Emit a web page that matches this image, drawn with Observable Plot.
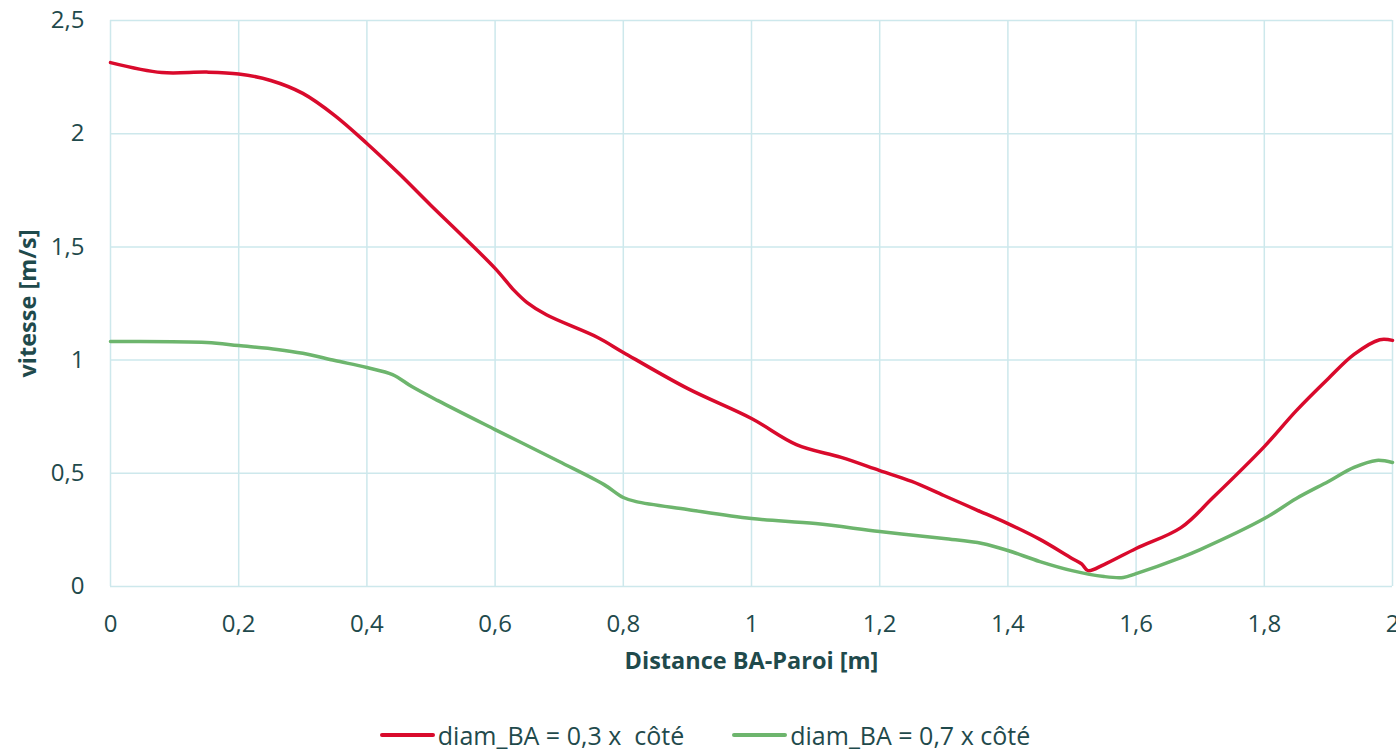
<!DOCTYPE html>
<html><head><meta charset="utf-8">
<script src="https://cdn.jsdelivr.net/npm/d3@7"></script>
<script src="https://cdn.jsdelivr.net/npm/@observablehq/plot@0.6"></script>
<style>
body{margin:0;background:#fff;font-family:"Open Sans",sans-serif;}
#legend{display:flex;justify-content:center;gap:48px;font-size:25px;color:#1f4a4c;margin-top:18px;padding-left:14px}
.item{display:flex;align-items:center}
.sw{display:inline-block;width:55px;height:4px;margin-right:3px;border-radius:2px}
</style></head><body>
<div id="chart"></div>
<div id="legend"></div>
<script>
const seriesNames = ["diam_BA = 0,3 x  côté", "diam_BA = 0,7 x côté"];
const colors = ["#d90a2c", "#6db56d"];
const redX = [0,0.08,0.15,0.2,0.25,0.3,0.35,0.4,0.45,0.5,0.55,0.6,0.63,0.65,0.68,0.76,0.8,0.9,1.0,1.07,1.14,1.2,1.25,1.3,1.35,1.4,1.45,1.5,1.515,1.525,1.55,1.6,1.67,1.72,1.8,1.85,1.9,1.94,1.98,2.0];
const redY = [2.314,2.27,2.272,2.264,2.235,2.178,2.08,1.957,1.824,1.683,1.546,1.405,1.307,1.254,1.2,1.1,1.034,0.875,0.742,0.627,0.57,0.512,0.464,0.402,0.34,0.278,0.208,0.124,0.1,0.07,0.097,0.168,0.26,0.393,0.618,0.777,0.919,1.025,1.09,1.087];
const greenX = [0,0.15,0.2,0.26,0.3,0.35,0.4,0.44,0.47,0.51,0.6,0.7,0.77,0.8,0.82,0.9,1.0,1.1,1.2,1.3,1.36,1.4,1.45,1.5,1.55,1.58,1.6,1.67,1.7,1.8,1.85,1.9,1.94,1.975,2.0];
const greenY = [1.082,1.078,1.064,1.047,1.03,0.998,0.967,0.936,0.883,0.822,0.693,0.552,0.45,0.393,0.375,0.34,0.3,0.278,0.243,0.212,0.19,0.159,0.11,0.07,0.044,0.04,0.057,0.128,0.163,0.3,0.389,0.464,0.526,0.557,0.548];
const xTicks = [0,0.2,0.4,0.6,0.8,1,1.2,1.4,1.6,1.8,2];
const yTicks = [0,0.5,1,1.5,2,2.5];
const xLabel = "Distance BA-Paroi [m]";
const yLabel = "vitesse [m/s]";

const data = [
  ...redX.map((x,i)=>({x, y: redY[i], s: seriesNames[0]})),
  ...greenX.map((x,i)=>({x, y: greenY[i], s: seriesNames[1]}))
];
const fmt = d => String(d).replace(".", ",");
const textColor = "#1f4a4c";
const grid = "#cde8ec";

const chart = Plot.plot({
  width: 1396, height: 700,
  marginLeft: 110, marginRight: 4, marginTop: 20, marginBottom: 114,
  style: {fontFamily: "Open Sans, sans-serif", fontSize: "24px", color: textColor, background: "#fff"},
  x: {domain: [0,2], ticks: xTicks, tickFormat: fmt, tickSize: 0, tickPadding: 28, label: null},
  y: {domain: [0,2.5], ticks: yTicks, tickFormat: fmt, tickSize: 0, tickPadding: 26, label: null},
  color: {domain: seriesNames, range: colors},
  marks: [
    Plot.ruleX(xTicks, {stroke: grid, strokeWidth: 1.5}),
    Plot.ruleY(yTicks, {stroke: grid, strokeWidth: 1.5}),
    Plot.axisX({ticks: xTicks, tickFormat: fmt, tickSize: 0, tickPadding: 28, fill: textColor}),
    Plot.axisY({ticks: yTicks, tickFormat: fmt, tickSize: 0, tickPadding: 26, fill: textColor}),
    Plot.line(data, {x: "x", y: "y", z: "s", stroke: "s", strokeWidth: 3.5, curve: "catmull-rom"}),
    Plot.text([xLabel], {frameAnchor: "bottom", dy: 82, text: d => d, fontWeight: "bold", fontSize: 23.5, fill: textColor}),
    Plot.text([yLabel], {frameAnchor: "left", textAnchor: "middle", dx: -82, rotate: -90, text: d => d, fontWeight: "bold", fontSize: 23.5, fill: textColor})
  ]
});
document.getElementById("chart").append(chart);

const lg = document.getElementById("legend");
seriesNames.forEach((n,i)=>{
  const it = document.createElement("div"); it.className="item";
  const sw = document.createElement("span"); sw.className="sw"; sw.style.background = colors[i];
  const t = document.createElement("span"); t.textContent = n; t.style.whiteSpace="pre";
  it.append(sw,t); lg.append(it);
});
</script>
</body></html>
